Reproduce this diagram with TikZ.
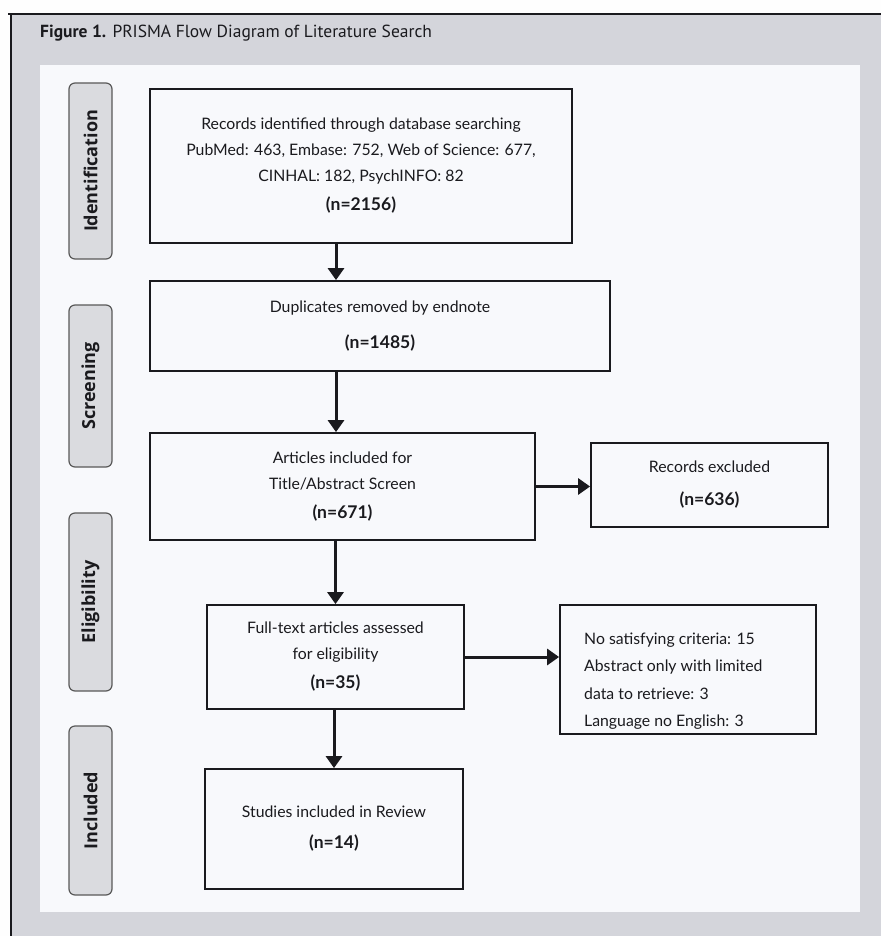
\documentclass[tikz,border=0pt]{standalone}
\usepackage{fontspec}
\setmainfont{Lato}
\newfontfamily\titlefont{PT Sans}
\newfontfamily\phasefont{Open Sans}
\usetikzlibrary{arrows.meta}

\definecolor{pagegray}{RGB}{212,213,219}
\definecolor{panelwhite}{RGB}{248,249,252}
\definecolor{tabgray}{RGB}{218,219,223}
\definecolor{inkdark}{RGB}{26,26,30}
\newcommand{\nval}[1]{{\fontsize{17.5}{20}\selectfont\bfseries #1}}

\begin{document}
\begin{tikzpicture}[x=1pt,y=-1pt]
  \tikzset{
    prbox/.style={draw=inkdark,line width=1.8pt,fill=panelwhite,align=center,
      inner sep=0pt,text=inkdark,font=\fontsize{15.8}{26}\selectfont},
    phase/.style={draw=black!65,line width=1.2pt,fill=tabgray,rounded corners=6pt,
      rotate=90,minimum height=43pt,text=inkdark,
      font=\phasefont\bfseries\fontsize{18}{20}\selectfont},
    flow/.style={-{Triangle[length=12pt,width=16pt]},line width=3pt,draw=inkdark},
  }
  % page, frame and panel
  \useasboundingbox (0,0) rectangle (881,936);
  \fill[white!97!pagegray] (0,0) rectangle (881,936);
  \fill[pagegray] (11,14) rectangle (881,936);
  \fill[panelwhite] (40,65) rectangle (860,912);
  \draw[line width=2.5pt,inkdark] (8,14) -- (881,14);
  \draw[line width=2.5pt,inkdark] (11,14) -- (11,936);

  \node[anchor=west,inner sep=0pt,text=inkdark,font=\titlefont\fontsize{17.5}{19}\selectfont] (title) at (40,33)
    {\textbf{Figure 1.} PRISMA Flow Diagram of Literature Search};

  % phases
  \node[phase,minimum width=176pt] (tabid)   at (90.5,171) {Identification};
  \node[phase,minimum width=162pt] (tabscr)  at (90.5,386) {Screening};
  \node[phase,minimum width=178pt] (tabelig) at (90.5,602) {Eligibility};
  \node[phase,minimum width=169pt] (tabincl) at (90.5,810.5) {Included};

  % flow boxes
  \node[prbox,minimum width=422pt,minimum height=154pt] (ident) at (361,166)
    {Records identified through database searching\\
     PubMed: 463, Embase: 752, Web of Science: 677,\\
     CINHAL: 182, PsychINFO: 82\\[3pt]\nval{(n=2156)}};
  \node[prbox,minimum width=460pt,minimum height=90pt] (dup) at (380,326)
    {Duplicates removed by endnote\\[10pt]\nval{(n=1485)}};
  \node[prbox,minimum width=385pt,minimum height=107pt] (artic) at (342.5,486.5)
    {Articles included for\\Title/Abstract Screen\\[3pt]\nval{(n=671)}};
  \node[prbox,minimum width=237pt,minimum height=84pt] (excla) at (709.5,485)
    {Records excluded\\[7pt]\nval{(n=636)}};
  \node[prbox,minimum width=257pt,minimum height=104pt] (full) at (335.5,657)
    {Full-text articles assessed\\for eligibility\\[3pt]\nval{(n=35)}};
  \node[prbox,minimum width=256pt,minimum height=129pt] (exclb) at (688,669.5) {};
  \node[anchor=west,align=left,inner sep=0pt,text=inkdark,font=\fontsize{15.8}{27.5}\selectfont] (exclbtxt)
    at (584,681) {No satisfying criteria: 15\\Abstract only with limited\\
     data to retrieve: 3\\Language no English: 3};
  \node[prbox,minimum width=258pt,minimum height=120pt] (incl) at (334,829)
    {Studies included in Review\\[5pt]\nval{(n=14)}};

  % connectors
  \coordinate (spine) at (336,0);
  \draw[flow] (ident.south -| spine) -- (dup.north -| spine);
  \draw[flow] (dup.south -| spine) -- (artic.north -| spine);
  \draw[flow] (artic.south -| full.north) -- (full.north);
  \draw[flow] (full.south -| incl.north) -- (incl.north);
  \draw[flow] (artic.east) -- (excla.west |- artic.east);
  \draw[flow] (full.east) -- (exclb.west |- full.east);
\end{tikzpicture}
\end{document}
